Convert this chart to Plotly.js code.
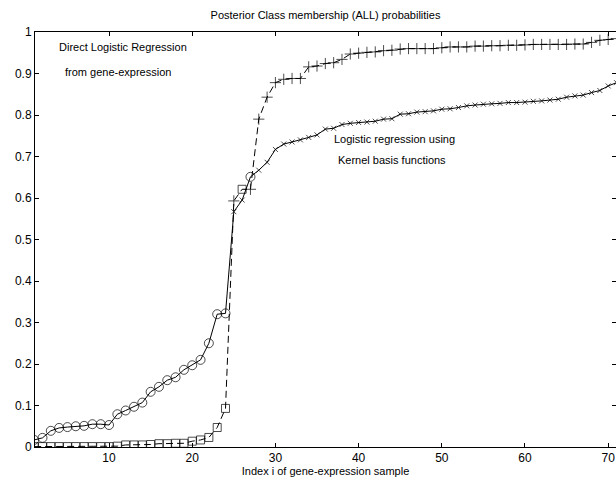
<!DOCTYPE html>
<html>
<head>
<meta charset="utf-8">
<script src="https://cdn.plot.ly/plotly-3.0.1.min.js"></script>
<style>html,body{margin:0;padding:0;background:#fff;}#chart{width:616px;height:478px;}</style>
</head>
<body>
<div id="chart"></div>
<script>
// Sample index (sorted by posterior probability)
const sampleIndex = Array.from({length: 72}, (_, k) => k + 1);

// Kernel basis function logistic regression (solid line)
const kernelProb = [
  0.017, 0.022, 0.039, 0.046, 0.048, 0.050, 0.051, 0.055, 0.055, 0.053,
  0.079, 0.088, 0.097, 0.107, 0.133, 0.145, 0.161, 0.168, 0.186, 0.197,
  0.210, 0.250, 0.320, 0.322, 0.567, 0.595, 0.651, 0.667, 0.686, 0.717,
  0.730, 0.735, 0.740, 0.746, 0.752, 0.766, 0.768, 0.777, 0.780, 0.782,
  0.783, 0.785, 0.790, 0.791, 0.802, 0.803, 0.807, 0.808, 0.810, 0.814,
  0.815, 0.818, 0.822, 0.824, 0.826, 0.827, 0.828, 0.830, 0.830, 0.831,
  0.833, 0.834, 0.836, 0.838, 0.843, 0.846, 0.848, 0.854, 0.859, 0.870,
  0.878, 0.892
];
// true class of each sorted sample for kernel model (1 = AML, 0 = ALL)
const kernelClass = [
  1,1,1,1,1,1,1,1,1,1, 1,1,1,1,1,1,1,1,1,1, 1,1,1,1,0,0,1,0,0,0,
  0,0,0,0,0,0,0,0,0,0, 0,0,0,0,0,0,0,0,0,0, 0,0,0,0,0,0,0,0,0,0,
  0,0,0,0,0,0,0,0,0,0, 0,0
];

// Direct logistic regression from gene-expression (dashed line)
const directProb = [
  0.001, 0.001, 0.001, 0.001, 0.001, 0.001, 0.001, 0.001, 0.001, 0.001,
  0.002, 0.005, 0.005, 0.005, 0.006, 0.008, 0.008, 0.009, 0.009, 0.014,
  0.017, 0.023, 0.047, 0.093, 0.593, 0.621, 0.621, 0.790, 0.843, 0.878,
  0.886, 0.888, 0.888, 0.916, 0.918, 0.924, 0.926, 0.934, 0.947, 0.949,
  0.951, 0.952, 0.955, 0.956, 0.959, 0.960, 0.960, 0.960, 0.960, 0.962,
  0.964, 0.964, 0.964, 0.966, 0.966, 0.967, 0.967, 0.968, 0.968, 0.969,
  0.970, 0.970, 0.970, 0.970, 0.970, 0.971, 0.971, 0.975, 0.980, 0.982,
  0.984, 0.986
];
const directClass = [
  1,1,1,1,1,1,1,1,1,1, 1,1,1,1,1,1,1,1,1,1, 1,1,1,1,0,1,0,0,0,0,
  0,0,0,0,0,0,0,0,0,0, 0,0,0,0,0,0,0,0,0,0, 0,0,0,0,0,0,0,0,0,0,
  0,0,0,0,0,0,0,0,0,0, 0,0
];

const yTicks = [0, 0.1, 0.2, 0.3, 0.4, 0.5, 0.6, 0.7, 0.8, 0.9, 1];
const yTickText = ['0', '0.1', '0.2', '0.3', '0.4', '0.5', '0.6', '0.7', '0.8', '0.9', '1'];
const xTicks = [10, 20, 30, 40, 50, 60, 70];

const FONT = 'Liberation Sans, Arial, sans-serif';

const traces = [
  {
    x: sampleIndex, y: kernelProb, type: 'scatter', mode: 'lines+markers',
    line: {color: '#000', width: 1},
    marker: {
      symbol: kernelClass.map(c => c ? 'circle-open' : 'x-thin-open'),
      size: kernelClass.map(c => c ? 9 : 5),
      color: '#000', line: {color: '#000', width: 1}
    },
    cliponaxis: true, showlegend: false
  },
  {
    x: sampleIndex, y: directProb, type: 'scatter', mode: 'lines+markers',
    line: {color: '#000', width: 1, dash: '7px,4px'},
    marker: {
      symbol: directClass.map(c => c ? 'square-open' : 'cross-thin-open'),
      size: directClass.map(c => c ? 8 : 8),
      color: '#000', line: {color: '#000', width: 1}
    },
    cliponaxis: true, showlegend: false
  }
];

const annFont = {family: FONT, size: 11, color: '#000'};
const layout = {
  width: 616, height: 478,
  margin: {l: 35, r: 0, t: 32, b: 31, pad: 0},
  paper_bgcolor: '#fff', plot_bgcolor: '#fff',
  font: {family: FONT, size: 11, color: '#000'},
  title: {
    text: 'Posterior Class membership (ALL) probabilities',
    font: {family: FONT, size: 11, color: '#000'},
    x: 0.5, xref: 'paper', y: 1 - 15/478, yanchor: 'middle'
  },
  xaxis: {
    range: [1.1, 70.94],
    tickvals: xTicks,
    ticks: 'inside', ticklen: 4, tickwidth: 1, tickcolor: '#000',
    showline: true, linecolor: '#000', linewidth: 1, mirror: 'ticks',
    showgrid: false, zeroline: false,
    tickfont: {family: FONT, size: 12, color: '#000'},
    title: {text: 'Index i of gene-expression sample', font: {family: FONT, size: 11, color: '#000'}, standoff: 0}
  },
  yaxis: {
    range: [0, 1],
    tickvals: yTicks, ticktext: yTickText,
    ticks: 'inside', ticklen: 4, tickwidth: 1, tickcolor: '#000',
    showline: true, linecolor: '#000', linewidth: 1, mirror: 'ticks',
    showgrid: false, zeroline: false,
    tickfont: {family: FONT, size: 12, color: '#000'}
  },
  annotations: [
    {text: 'Direct Logistic Regression', xref: 'paper', yref: 'paper', x: (57-35)/581, y: (447-47)/415, xanchor: 'left', yanchor: 'middle', showarrow: false, font: annFont},
    {text: 'from gene-expression', xref: 'paper', yref: 'paper', x: (63-35)/581, y: (447-72)/415, xanchor: 'left', yanchor: 'middle', showarrow: false, font: annFont},
    {text: 'Logistic regression using', xref: 'paper', yref: 'paper', x: (332-35)/581, y: (447-139)/415, xanchor: 'left', yanchor: 'middle', showarrow: false, font: annFont},
    {text: 'Kernel basis functions', xref: 'paper', yref: 'paper', x: (336-35)/581, y: (447-160)/415, xanchor: 'left', yanchor: 'middle', showarrow: false, font: annFont}
  ]
};

Plotly.newPlot('chart', traces, layout, {staticPlot: true, displayModeBar: false});
</script>
</body>
</html>
